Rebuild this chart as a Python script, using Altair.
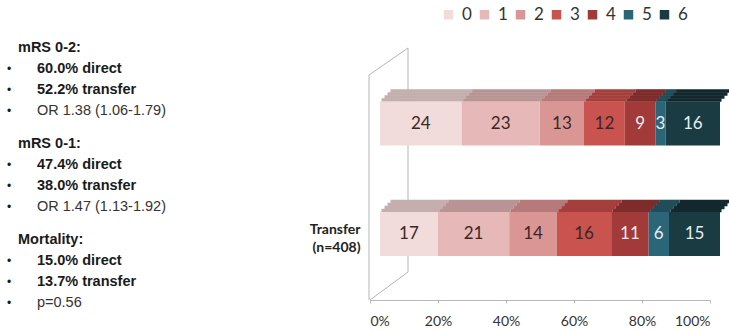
import altair as alt
import pandas as pd

# mRS distribution (%) by grade, per admission route
grades = ["0", "1", "2", "3", "4", "5", "6"]
groups = ["Direct", "Transfer"]
direct_pct = [24, 23, 13, 12, 9, 3, 16]
transfer_pct = [17, 21, 14, 16, 11, 6, 15]
x_ticks = [0, 20, 40, 60, 80, 100]

# front faces and (darker) top faces of the 3D bars
front_colors = ["#f2dcdb", "#e6b9b8", "#da9694", "#c9534f", "#a23a39", "#2a6677", "#1b3b43"]
top_colors = ["#c4aeae", "#b89494", "#b57a79", "#a43f3c", "#7e2c2b", "#1f4d5a", "#12282e"]

# summary statistics shown beside the chart
stat_group = [0, 0, 0, 0, 1, 1, 1, 1, 2, 2, 2, 2]
stat_row = [0, 1, 2, 3, 0, 1, 2, 3, 0, 1, 2, 3]
stat_text = [
    "mRS 0-2:", "60.0% direct", "52.2% transfer", "OR 1.38 (1.06-1.79)",
    "mRS 0-1:", "47.4% direct", "38.0% transfer", "OR 1.47 (1.13-1.92)",
    "Mortality:", "15.0% direct", "13.7% transfer", "p=0.56",
]
stat_bold = [True, True, True, False] * 3

rows = []
for g, vals in zip(groups, [direct_pct, transfer_pct]):
    for k, v in zip(grades, vals):
        rows.append({"group": g, "grade": k, "rank": int(k), "pct": v})
df = pd.DataFrame(rows)

stats = pd.DataFrame({"group": stat_group, "row": stat_row,
                      "text": stat_text, "bold": stat_bold})

W, H = 340, 260

x_scale = alt.Scale(domain=[0, 100], nice=False, zero=True)
y_scale = alt.Scale(domain=groups, paddingInner=0.602, paddingOuter=0.4775, align=0.583)

x_axis = alt.Axis(values=x_ticks, labelExpr="datum.value + '%'", grid=False,
                  domainColor="#b8b8b8", tickColor="#b8b8b8", tickSize=3,
                  labelFont="Lato", labelFontSize=14, labelColor="#333333",
                  labelPadding=11, title=None)
y_axis = alt.Axis(domain=False, ticks=False, labelFont="Lato", labelFontWeight="bold",
                  labelFontSize=14, labelColor="#222222", labelPadding=10,
                  labelLineHeight=18, labelOffset=-4, title=None,
                  labelExpr="datum.value == 'Transfer' ? ['Transfer', '(n=408)'] : ''")

base = (
    alt.Chart(df)
    .transform_stack(stack="pct", groupby=["group"], as_=["x0", "x1"],
                     sort=[alt.SortField("rank", order="ascending")])
    .transform_calculate(mid="(datum.x0 + datum.x1) / 2")
)

x_start = alt.X("x0:Q", scale=x_scale, axis=x_axis)
y_enc = alt.Y("group:N", scale=y_scale, axis=y_axis)

top_color = alt.Color("grade:N", scale=alt.Scale(domain=grades, range=top_colors), legend=None)

# depth faces: thin strips stepping back and to the right above each front face
depth_layers = []
for i in range(4):
    shift = 11.5 + 3 * i
    depth_layers.append(
        base.mark_bar(size=3.6, xOffset=shift, x2Offset=shift, yOffset=-23.5 - 3 * i).encode(
            x=x_start, x2="x1:Q", y=y_enc, color=top_color)
    )

front = base.mark_bar(size=44, xOffset=10, x2Offset=10).encode(
    x=x_start, x2="x1:Q", y=y_enc,
    color=alt.Color(
        "grade:N", scale=alt.Scale(domain=grades, range=front_colors),
        legend=alt.Legend(title=None, orient="none", legendX=70, legendY=-34,
                          direction="horizontal", symbolType="square", symbolSize=90,
                          symbolStrokeWidth=0, labelFont="Lato", labelFontSize=17,
                          labelColor="#333333", labelOffset=5, columnPadding=4,
                          padding=0),
    ),
)

labels = base.mark_text(xOffset=10, font="Lato", fontSize=17).encode(
    x=alt.X("mid:Q", scale=x_scale, axis=x_axis),
    y=y_enc,
    text="pct:Q",
    color=alt.condition(alt.datum.rank >= 4, alt.value("#e6eff0"), alt.value("#3a2626")),
)

# side wall of the 3D plot
wall_src = alt.Chart(pd.DataFrame({"k": [0]}))
wall_style = dict(color="#b4b4b4", strokeWidth=1)
wall = alt.layer(
    wall_src.mark_rule(**wall_style).encode(x=alt.value(-1), x2=alt.value(-1), y=alt.value(35), y2=alt.value(260)),
    wall_src.mark_rule(**wall_style).encode(x=alt.value(38), x2=alt.value(38), y=alt.value(8), y2=alt.value(232)),
    wall_src.mark_rule(**wall_style).encode(x=alt.value(-1), x2=alt.value(38), y=alt.value(35), y2=alt.value(8)),
    wall_src.mark_rule(**wall_style).encode(x=alt.value(0), x2=alt.value(38), y=alt.value(260), y2=alt.value(232)),
)

# statistics text block in the left margin
stat_base = alt.Chart(stats).transform_calculate(
    py="8 + datum.group * 96 + datum.row * 21"
)
stat_y = alt.Y("py:Q", scale=None, axis=None)
headers = stat_base.transform_filter("datum.row == 0").mark_text(
    align="left", baseline="middle", font="Liberation Sans", fontSize=14.5,
    fontWeight="bold", color="#1a1a1a",
).encode(x=alt.value(-352), y=stat_y, text="text:N")
bold_items = stat_base.transform_filter("datum.row > 0 && datum.bold").mark_text(
    align="left", baseline="middle", font="Liberation Sans", fontSize=14.5,
    fontWeight="bold", color="#1a1a1a",
).encode(x=alt.value(-333), y=stat_y, text="text:N")
plain_items = stat_base.transform_filter("!datum.bold").mark_text(
    align="left", baseline="middle", font="Liberation Sans", fontSize=14.5,
    color="#333333",
).encode(x=alt.value(-333), y=stat_y, text="text:N")
bullets = stat_base.transform_filter("datum.row > 0").mark_text(
    align="left", baseline="middle", font="Liberation Sans", fontSize=12,
    color="#1a1a1a",
).encode(x=alt.value(-363), y=stat_y, text=alt.value("•"))

chart = (
    alt.layer(wall, *depth_layers, front, labels, headers, bold_items, plain_items, bullets)
    .resolve_scale(color="independent")
    .properties(
        width=W, height=H,
        padding={"left": 370, "top": 40, "right": 19, "bottom": 31},
        autosize=alt.AutoSizeParams(type="none"),
        background="white",
    )
    .configure_view(stroke=None)
)

chart.save("out.html", embed_options={"renderer": "svg", "actions": False})
